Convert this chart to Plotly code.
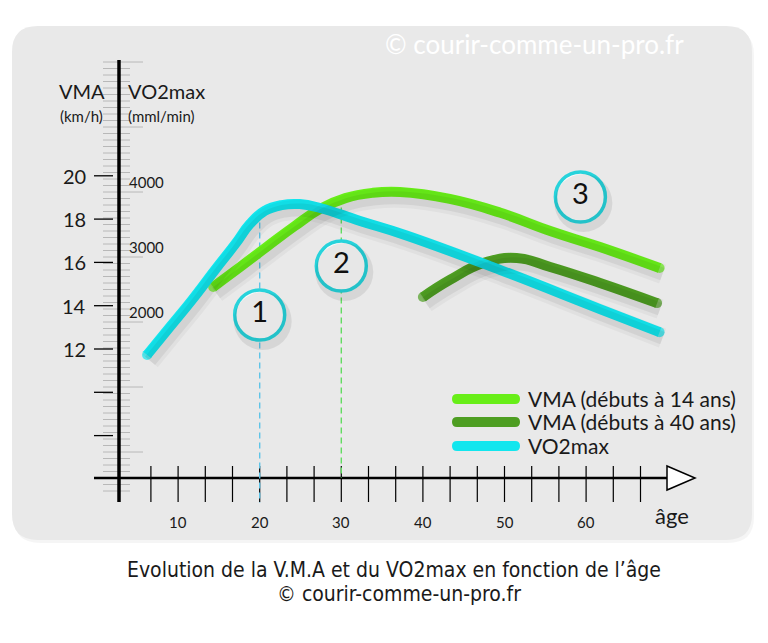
import plotly.graph_objects as go

OFF = 8                      # page margin of the browser body
W, H = 768 - OFF, 643 - OFF

# --- data ---
ages_vo2 = [6.2, 9.0, 11.7, 14.5, 17.0, 18.8, 20.6, 22.7, 24.9, 27.4, 32.3, 37.8, 49.5, 61.7, 69]
vo2max = [1340, 1770, 2185, 2645, 3045, 3355, 3555, 3645, 3660, 3600, 3400, 3185, 2645, 2045, 1690]

ages_vma14 = [14.3, 17.6, 21.0, 24.3, 27.4, 30.5, 33.8, 37.2, 43.3, 49.5, 55.6, 61.7, 69]
vma14 = [14.86, 15.79, 16.76, 17.68, 18.47, 18.97, 19.21, 19.25, 18.93, 18.29, 17.45, 16.71, 15.74]

ages_vma40 = [40, 43.3, 47.4, 51.5, 55.6, 61.7, 68.7]
vma40 = [14.4, 15.19, 15.97, 16.2, 15.79, 15.05, 14.12]

series_names = ["VMA (débuts à 14 ans)", "VMA (débuts à 40 ans)", "VO2max"]
series_colors = ["#68ee18", "#4e9e22", "#12e6ee"]

age_labels = [10, 20, 30, 40, 50, 60]
age_ticks = [20 / 3 + k * 10 / 3 for k in range(19)]
vma_labels = [12, 14, 16, 18, 20]
vma_ticks = [8, 10, 12, 14, 16, 18, 20]
vo2_labels = [2000, 3000, 4000]

circle_ages = [20, 30, 59.3]
circle_vma = [13.57, 15.83, 19.02]
circle_text = ["1", "2", "3"]

guide_ages = [20, 30]
guide_top = [18.3, 19.0]
guide_bottom = [4.89, 6.04]
guide_colors = ["#5ec4e8", "#62dc62"]

# --- pixel mapping of the drawing (reference px) ---
X0, XS = 96.5 - OFF, 8.16     # px of age 0, px per year
VY, VS = 349 - OFF, 21.65     # px of VMA 12, px per km/h
OY, OS = 312 - OFF, 0.065     # px of VO2 2000, px per mml/min

xr = [(0 - X0) / XS, (W - X0) / XS]
yr = [12 - (H - VY) / VS, 12 + VY / VS]
y2r = [2000 - (H - OY) / OS, 2000 + OY / OS]

SDX, SDY = 3, 6  # shadow offset in px
SMOOTH = 1.3


def fx(p):
    return (p - OFF) / W


def fy(p):
    return 1 - (p - OFF) / H


def rr_path(x0, y0, x1, y1, r):
    pts = [
        ("M", [(x0 + r, y0)]), ("L", [(x1 - r, y0)]), ("Q", [(x1, y0), (x1, y0 + r)]),
        ("L", [(x1, y1 - r)]), ("Q", [(x1, y1), (x1 - r, y1)]), ("L", [(x0 + r, y1)]),
        ("Q", [(x0, y1), (x0, y1 - r)]), ("L", [(x0, y0 + r)]), ("Q", [(x0, y0), (x0 + r, y0)]),
    ]
    s = ""
    for cmd, ps in pts:
        s += cmd + " " + " ".join(f"{fx(a):.5f},{fy(b):.5f}" for a, b in ps) + " "
    return s + "Z"


FONT = "Lato, Open Sans, sans-serif"
CAP_FONT = "Liberation Sans Narrow, DejaVu Sans Condensed, sans-serif"
TXT = "#1a1a1a"

fig = go.Figure()

# shadows of the curves
curves = [
    (ages_vma14, vma14, "y", "y3", series_colors[0]),
    (ages_vma40, vma40, "y", "y3", series_colors[1]),
    (ages_vo2, vo2max, "y2", "y4", series_colors[2]),
]
for xs, ys, ya, sya, col in curves:
    for w, a in [(20, 0.035), (13, 0.06)]:
        fig.add_trace(go.Scatter(
            x=xs, y=ys, xaxis="x2", yaxis=sya, mode="lines",
            line=dict(color=f"rgba(0,0,0,{a})", width=w, shape="spline", smoothing=SMOOTH),
            hoverinfo="skip"))

# dashed guides
for a, t, b, c in zip(guide_ages, guide_top, guide_bottom, guide_colors):
    fig.add_trace(go.Scatter(x=[a, a], y=[t, b], mode="lines",
                             line=dict(color=c, width=1.4, dash="6px,4px"), hoverinfo="skip"))

# curves
for xs, ys, ya, sya, col in curves:
    sizes = [10] + [0] * (len(xs) - 2) + [10]
    fig.add_trace(go.Scatter(
        x=xs, y=ys, yaxis=ya, mode="lines+markers",
        line=dict(color=col, width=10, shape="spline", smoothing=SMOOTH),
        marker=dict(size=sizes, color=col, line=dict(width=0)),
        hoverinfo="skip"))

# numbered circles
fig.add_trace(go.Scatter(
    x=circle_ages, y=circle_vma, xaxis="x2", yaxis="y3", mode="markers",
    marker=dict(size=58, color="rgba(0,0,0,0.08)", line=dict(width=0)), hoverinfo="skip"))
fig.add_trace(go.Scatter(
    x=circle_ages, y=circle_vma, mode="markers+text", text=circle_text,
    textposition="middle center", textfont=dict(family=FONT, size=29, color="#111"),
    marker=dict(size=50, color="#fbfbfb", line=dict(width=3.5, color="#27d3db")),
    hoverinfo="skip"))

shapes = []
# background panel
shapes.append(dict(type="path", xref="paper", yref="paper", layer="below",
                   path=rr_path(14, 29, 754, 543, 26), fillcolor="rgba(0,0,0,0.04)", line=dict(width=0)))
shapes.append(dict(type="path", xref="paper", yref="paper", layer="below",
                   path=rr_path(12, 26, 752, 540, 26), fillcolor="#e9e9e9", line=dict(width=0)))
# grey ladder on the vertical axis
for k in range(67):
    yy = 62 + 6.5 * k
    x1 = 143 if k % 10 == 0 else 130
    shapes.append(dict(type="line", xref="paper", yref="paper", layer="below",
                       x0=fx(103), x1=fx(x1), y0=fy(yy), y1=fy(yy),
                       line=dict(color="#b8b8b8", width=1)))
# vertical axis
shapes.append(dict(type="line", xref="paper", yref="paper", layer="below",
                   x0=fx(119), x1=fx(119), y0=fy(60), y1=fy(502),
                   line=dict(color="black", width=3.5)))
for v in vma_ticks:
    shapes.append(dict(type="line", xref="paper", yref="y", layer="below",
                       x0=fx(94), x1=fx(113), y0=v, y1=v, line=dict(color="black", width=1.3)))
# horizontal axis
shapes.append(dict(type="line", xref="paper", yref="paper", layer="below",
                   x0=fx(94), x1=fx(667), y0=fy(478), y1=fy(478),
                   line=dict(color="black", width=2.6)))
for a in age_ticks:
    shapes.append(dict(type="line", xref="x", yref="paper", layer="below",
                       x0=a, x1=a, y0=fy(466), y1=fy(502), line=dict(color="black", width=1.2)))
shapes.append(dict(type="path", xref="paper", yref="paper", layer="below",
                   path=f"M {fx(667)},{fy(466)} L {fx(695)},{fy(478)} L {fx(667)},{fy(490)} Z",
                   fillcolor="white", line=dict(color="black", width=1.5)))
# legend swatches
leg_y = [399, 422, 446]
for yy, col in zip(leg_y, series_colors):
    shapes.append(dict(type="path", xref="paper", yref="paper", layer="above",
                       path=rr_path(452, yy - 5, 520, yy + 5, 5), fillcolor=col, line=dict(width=0)))

ann = []


def text(x, y, s, size, xanchor="center", color=TXT, family=FONT, xref="paper", yref="paper"):
    ann.append(dict(x=x, y=y, xref=xref, yref=yref, text=s, showarrow=False,
                    xanchor=xanchor, yanchor="middle",
                    font=dict(family=family, size=size, color=color)))


for v in vma_labels:
    text(fx(88), v, str(v), 20, xanchor="right", yref="y")
for v in vo2_labels:
    text(fx(127), v, str(v), 15, xanchor="left", yref="y2")
for a in age_labels:
    text(a, fy(522), str(a), 15, xref="x")
text(fx(82), fy(91), "VMA", 20)
text(fx(81), fy(116), "(km/h)", 15)
text(fx(126), fy(91), "VO2max", 20, xanchor="left")
text(fx(126), fy(116), "(mml/min)", 15, xanchor="left")
text(fx(672), fy(515), "âge", 22)
text(fx(534), fy(44), "© courir-comme-un-pro.fr", 26, color="white")
for yy, name in zip(leg_y, series_names):
    text(fx(526), fy(yy - 1), name, 21, xanchor="left")
text(fx(394), fy(570), "Evolution de la V.M.A et du VO2max en fonction de l’âge", 21, family=CAP_FONT)
text(fx(399), fy(594), "© courir-comme-un-pro.fr", 21, family=CAP_FONT)

ax = dict(visible=False, fixedrange=True)
fig.update_layout(
    width=W, height=H, autosize=False,
    margin=dict(l=0, r=0, t=0, b=0),
    paper_bgcolor="white", plot_bgcolor="rgba(0,0,0,0)",
    showlegend=False,
    xaxis=dict(range=xr, **ax),
    xaxis2=dict(range=[xr[0] - SDX / XS, xr[1] - SDX / XS], overlaying="x", **ax),
    yaxis=dict(range=yr, **ax),
    yaxis2=dict(range=y2r, overlaying="y", **ax),
    yaxis3=dict(range=[yr[0] + SDY / VS, yr[1] + SDY / VS], overlaying="y", **ax),
    yaxis4=dict(range=[y2r[0] + SDY / OS, y2r[1] + SDY / OS], overlaying="y", **ax),
    shapes=shapes,
    annotations=ann,
)

fig.write_html("out.html")
